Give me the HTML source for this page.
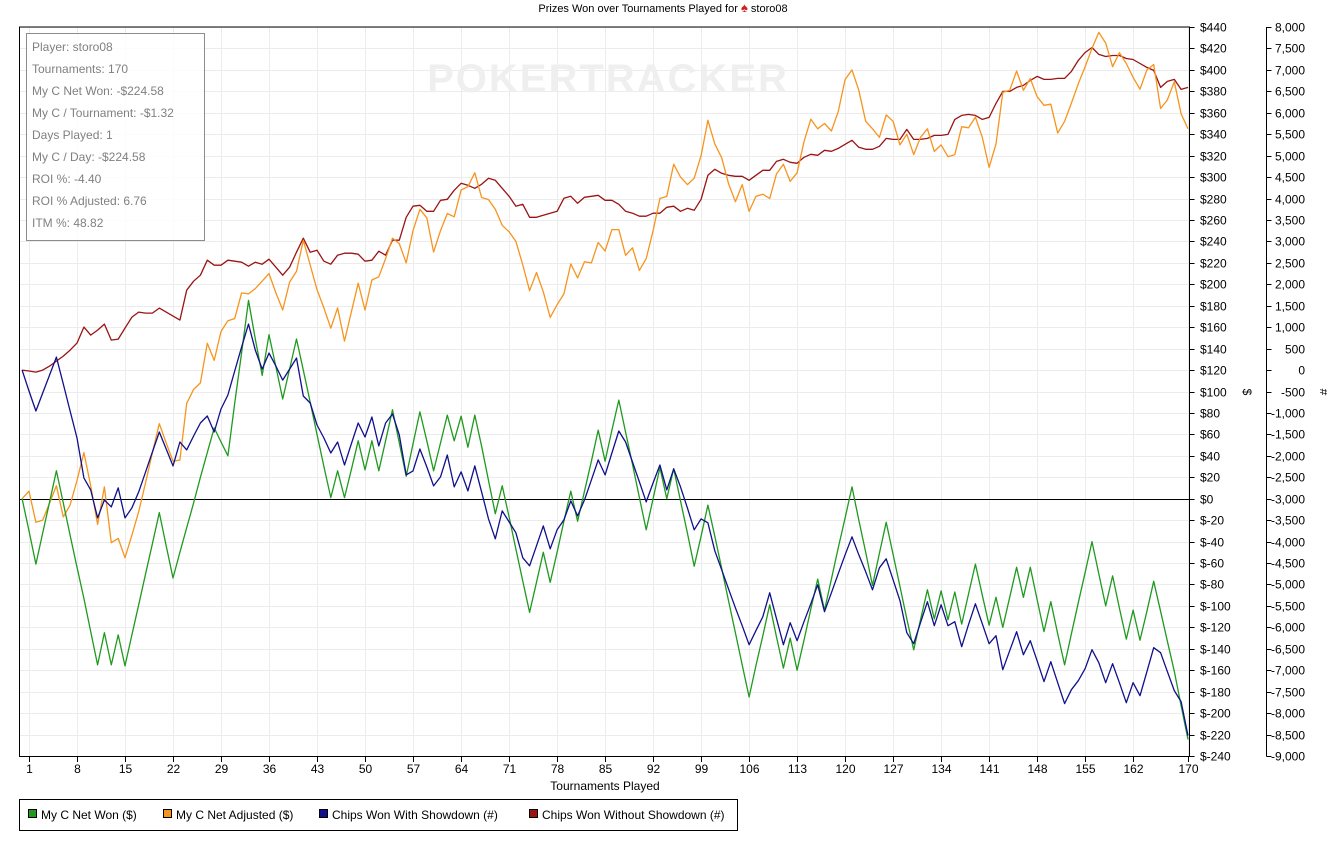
<!DOCTYPE html>
<html><head><meta charset="utf-8"><title>Prizes Won over Tournaments Played</title>
<style>
html,body{margin:0;padding:0;background:#fff;}
svg{display:block;font-family:"Liberation Sans",Arial,sans-serif;}
</style></head>
<body>
<svg id="chart" width="1327" height="847" viewBox="0 0 1327 847" xmlns="http://www.w3.org/2000/svg">
  <rect x="0" y="0" width="1327" height="847" fill="#fff"/>
  <text x="663" y="12" font-size="11" text-anchor="middle" fill="#000">Prizes Won over Tournaments Played for <tspan fill="#d42020" font-size="13">♠</tspan> storo08</text>
  <g id="grid"></g>
  <text x="608" y="92" font-size="40" font-weight="bold" text-anchor="middle" fill="#efefef" letter-spacing="2">POKERTRACKER</text>
  <g id="series"></g>
  <g id="axes"></g>
  <g>
    <rect x="26.5" y="33.5" width="178" height="207" fill="#fff" fill-opacity="0.85" stroke="#8c8c8c"/>
    <g font-size="12" fill="#808080">
      <text x="32" y="51">Player: storo08</text>
      <text x="32" y="73">Tournaments: 170</text>
      <text x="32" y="95">My C Net Won: -$224.58</text>
      <text x="32" y="117">My C / Tournament: -$1.32</text>
      <text x="32" y="139">Days Played: 1</text>
      <text x="32" y="161">My C / Day: -$224.58</text>
      <text x="32" y="183">ROI %: -4.40</text>
      <text x="32" y="205">ROI % Adjusted: 6.76</text>
      <text x="32" y="227">ITM %: 48.82</text>
    </g>
  </g>
  <text x="605" y="790" font-size="12" text-anchor="middle">Tournaments Played</text>
  <text x="1243" y="392" font-size="12" text-anchor="middle" transform="rotate(90 1243 392)">$</text>
  <text x="1320" y="392" font-size="12" text-anchor="middle" transform="rotate(90 1320 392)">#</text>
  <g>
    <rect x="19.5" y="799.5" width="718" height="31" fill="#fff" stroke="#000"/>
    <g><rect x="28.5" y="809.5" width="8" height="8" fill="#1f9a1f" stroke="#000"/><text x="41" y="819" font-size="12">My C Net Won ($)</text></g>
    <g><rect x="163.5" y="809.5" width="8" height="8" fill="#f7941d" stroke="#000"/><text x="176" y="819" font-size="12">My C Net Adjusted ($)</text></g>
    <g><rect x="319.5" y="809.5" width="8" height="8" fill="#10108c" stroke="#000"/><text x="332" y="819" font-size="12">Chips Won With Showdown (#)</text></g>
    <g><rect x="529.5" y="809.5" width="8" height="8" fill="#9a1414" stroke="#000"/><text x="542" y="819" font-size="12">Chips Won Without Showdown (#)</text></g>
  </g>
</svg>
<script>
const netWon = [0,-30,-61,-32,-3,26,-4,-34,-64,-93,
-124,-155,-125,-155,-127,-156,-127,-99,-70,-42,
-13,-44,-74,-50,-27,-4,20,43,66,53,
40,89,136,185,149,115,153,123,93,121,
149,120,90,60,30,1,26,1,27,54,
27,54,26,54,83,52,21,51,81,54,
26,52,78,54,77,48,78,49,17,-14,
12,-17,-47,-77,-106,-78,-50,-78,-50,-21,
7,-21,7,35,64,35,64,92,62,32,
1,-29,0,29,0,28,-2,-32,-63,-35,
-6,-35,-65,-95,-125,-155,-185,-156,-128,-99,
-129,-158,-130,-160,-132,-103,-75,-104,-75,-46,
-18,11,-20,-50,-81,-51,-22,-52,-82,-112,
-141,-113,-85,-112,-86,-113,-87,-117,-89,-61,
-90,-118,-92,-120,-92,-64,-92,-64,-94,-124,
-96,-126,-155,-126,-97,-69,-40,-70,-100,-72,
-102,-131,-104,-132,-105,-77,-105,-133,-161,-193,
-224.58];
const netAdjusted = [0,7,-22,-20,-4,12,-17,-6,17,43,
12,-24,11,-41,-37,-55,-34,-12,15,43,
70,52,35,36,89,102,108,145,129,156,
166,168,192,191,196,203,210,192,176,202,
212,241,218,195,178,159,178,147,174,201,
176,204,207,224,243,238,220,250,270,262,
230,250,266,263,288,291,304,281,279,270,
255,249,240,218,194,211,193,169,181,191,
219,206,221,220,239,231,251,251,227,234,
213,224,250,280,282,312,300,293,299,320,
353,331,318,294,277,293,268,282,284,280,
303,312,296,304,333,354,345,350,343,361,
391,400,381,352,345,337,358,352,330,340,
321,337,345,324,330,319,321,347,346,356,
337,309,331,379,381,399,381,392,375,367,
368,341,352,369,387,403,420,435,425,403,
416,406,393,382,400,405,364,372,389,359,
345];
const chipsShowdown = [0,-489,-955,-536,-116,303,-326,-955,-1584,-2515,
-2795,-3447,-3028,-3191,-2748,-3447,-3214,-2841,-2376,-1910,
-1444,-1840,-2236,-1677,-1863,-1537,-1234,-1071,-1444,-908,
-582,-23,536,1071,466,23,396,93,-233,23,
279,-606,-769,-1281,-1584,-1933,-1677,-2213,-1723,-1234,
-1560,-1095,-1770,-1234,-1025,-1514,-2445,-2352,-1840,-2259,
-2702,-2492,-1980,-2725,-2376,-2818,-2236,-2841,-3470,-3936,
-3284,-3540,-3796,-4379,-4565,-4099,-3633,-4169,-3726,-3494,
-3051,-3400,-3028,-2562,-2096,-2445,-1933,-1421,-1677,-2143,
-2608,-3074,-2632,-2213,-2795,-2306,-2725,-3214,-3726,-3470,
-3563,-4215,-4658,-5101,-5543,-5962,-6405,-6079,-5753,-5194,
-5799,-6405,-5892,-6312,-5869,-5450,-5007,-5636,-5194,-4751,
-4309,-3889,-4309,-4705,-5124,-4611,-4402,-4891,-5380,-6125,
-6381,-5892,-5403,-5962,-5473,-5962,-5869,-6451,-5939,-5450,
-5916,-6381,-6195,-6987,-6545,-6102,-6638,-6312,-6777,-7266,
-6801,-7290,-7779,-7453,-7243,-6964,-6521,-6824,-7290,-6847,
-7290,-7756,-7290,-7593,-7034,-6475,-6591,-7034,-7476,-7732,
-8524];
const chipsNoShowdown = [0,-23,-47,0,93,210,326,466,629,1001,
815,932,1071,699,722,978,1234,1351,1328,1328,
1444,1351,1258,1164,1863,2073,2213,2562,2445,2445,
2562,2539,2515,2422,2515,2469,2585,2399,2213,2399,
2748,3074,2748,2795,2539,2469,2678,2725,2725,2702,
2539,2562,2772,2678,3028,3028,3563,3820,3843,3703,
3703,3959,3983,4192,4355,4309,4239,4332,4472,4425,
4239,4052,3820,3866,3563,3563,3610,3657,3703,4006,
4052,3889,4029,4052,4076,3959,3959,3866,3703,3657,
3587,3587,3657,3657,3796,3820,3703,3773,3726,3983,
4542,4681,4588,4542,4518,4518,4425,4542,4658,4658,
4867,4914,4844,4821,4961,5031,5007,5124,5101,5170,
5264,5357,5194,5147,5147,5217,5403,5380,5380,5613,
5380,5380,5403,5473,5473,5496,5846,5939,5962,5939,
5846,5892,6218,6498,6498,6591,6638,6754,6847,6778,
6778,6801,6801,6964,7220,7406,7523,7360,7313,7336,
7336,7266,7243,7150,7057,6987,6591,6731,6778,6545,
6591];
const xTicks = [1,8,15,22,29,36,43,50,57,64,71,78,85,92,99,106,113,120,127,134,141,148,155,162,170];
const dollarTicks = [440,420,400,380,360,340,320,300,280,260,240,220,200,180,160,140,120,100,80,60,40,20,0,-20,-40,-60,-80,-100,-120,-140,-160,-180,-200,-220,-240];
const chipTicks = [8000,7500,7000,6500,6000,5500,5000,4500,4000,3500,3000,2500,2000,1500,1000,500,0,-500,-1000,-1500,-2000,-2500,-3000,-3500,-4000,-4500,-5000,-5500,-6000,-6500,-7000,-7500,-8000,-8500,-9000];

const NS = 'http://www.w3.org/2000/svg';
const L = 19.5, R = 1189.5, T = 27, B = 756;
function xS(i){ return 29 + (i - 1) * (1159 / 169); }
function yD(v){ return T + (440 - v) * (B - T) / 680; }
function yC(c){ return T + (8000 - c) * (B - T) / 17000; }
function mk(tag, attrs, parent){ const e = document.createElementNS(NS, tag); for (const k in attrs) e.setAttribute(k, attrs[k]); parent.appendChild(e); return e; }
function fmtD(v){ return v < 0 ? '$-' + Math.abs(v) : '$' + v; }
function fmtC(v){ return v.toLocaleString('en-US'); }

const grid = document.getElementById('grid');
dollarTicks.forEach(v => {
  const y = Math.round(yD(v)) + 0.5;
  const g = mk('line', {x1: L, x2: R, y1: y, y2: y, stroke: '#ececec', 'stroke-width': 1}, grid);
  
  
});
xTicks.forEach(t => {
  const x = Math.round(xS(t)) + 0.5;
  const g = mk('line', {x1: x, x2: x, y1: T, y2: B, stroke: '#ececec', 'stroke-width': 1}, grid);
  
  
});

const series = document.getElementById('series');
const zl = mk('line', {x1: L, x2: R, y1: Math.round(yD(0)) + 0.5, y2: Math.round(yD(0)) + 0.5, stroke: '#000', 'stroke-width': 1}, series);



function drawLine(data, yf, color, name){
  const pts = data.map((v, i) => xS(i).toFixed(1) + ',' + yf(v).toFixed(1)).join(' ');
  const p = mk('polyline', {points: pts, fill: 'none', stroke: color, 'stroke-width': 1.3, 'stroke-linejoin': 'round'}, series);
  
  
}
drawLine(chipsNoShowdown, yC, '#9a1414', 'line-chips-no-showdown');
drawLine(netAdjusted, yD, '#f7941d', 'line-net-adjusted');
drawLine(netWon, yD, '#1f9a1f', 'line-net-won');
drawLine(chipsShowdown, yC, '#10108c', 'line-chips-showdown');

const axes = document.getElementById('axes');
mk('path', {d: `M${L},${T} H${R} V${B + 0.5} H${L} Z`, fill: 'none', stroke: '#000', 'stroke-width': 1}, axes);
xTicks.forEach(t => {
  const x = Math.round(xS(t)) + 0.5;
  mk('line', {x1: x, x2: x, y1: B, y2: B + 6, stroke: '#000'}, axes);
  const lb = mk('text', {x: x, y: B + 17, 'font-size': 12, 'text-anchor': 'middle'}, axes);
  lb.textContent = t;
  
  
});
dollarTicks.forEach(v => {
  const y = Math.round(yD(v)) + 0.5;
  mk('line', {x1: R, x2: R + 5, y1: y, y2: y, stroke: '#000'}, axes);
  const lb = mk('text', {x: 1200, y: y + 4, 'font-size': 12}, axes);
  lb.textContent = fmtD(v);
  
  
});
mk('line', {x1: 1266.5, x2: 1266.5, y1: T, y2: B + 0.5, stroke: '#000'}, axes);
chipTicks.forEach(v => {
  const y = Math.round(yC(v)) + 0.5;
  mk('line', {x1: 1266.5, x2: 1271.5, y1: y, y2: y, stroke: '#000'}, axes);
  const lb = mk('text', {x: 1305, y: y + 4, 'font-size': 12, 'text-anchor': 'end'}, axes);
  lb.textContent = fmtC(v);
  
  
});
</script>
</body></html>
